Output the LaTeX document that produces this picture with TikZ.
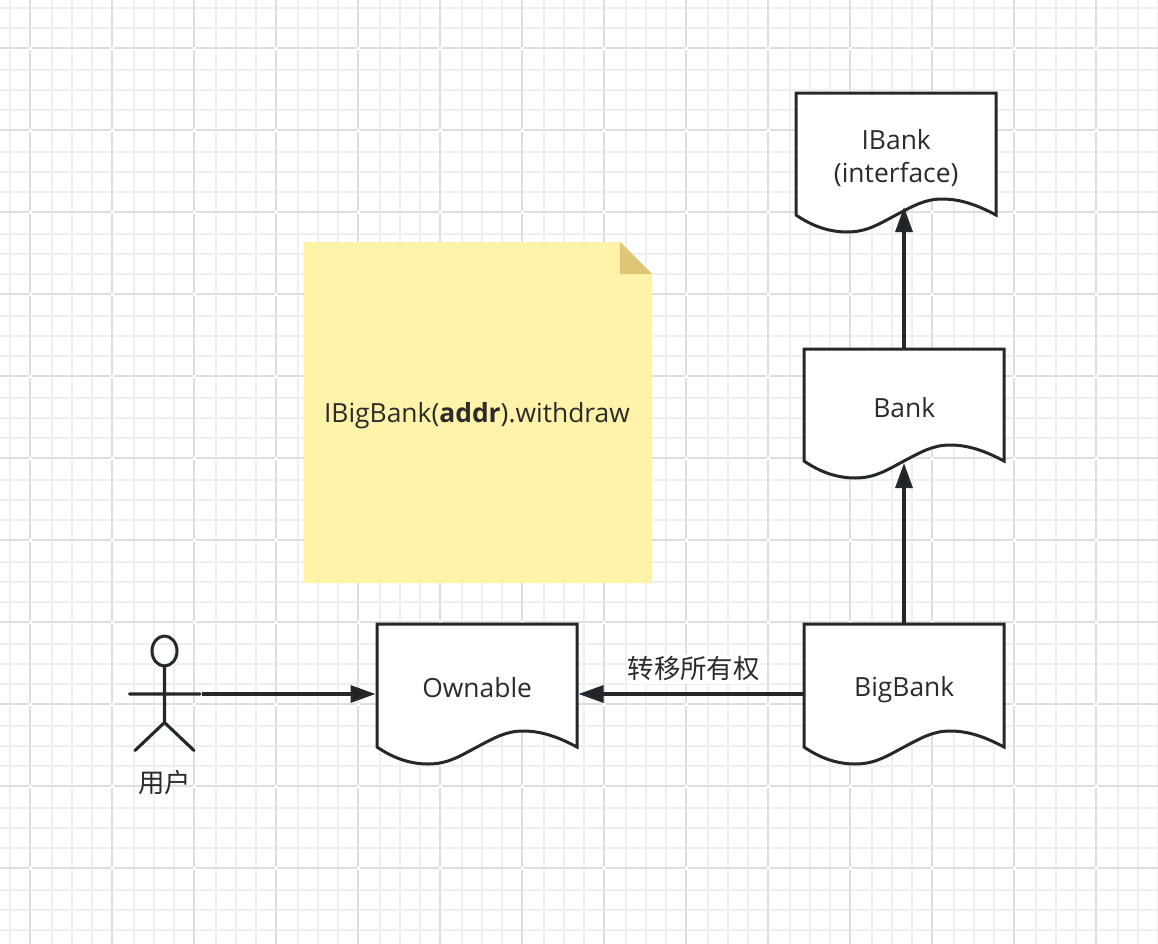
\documentclass[tikz,border=0pt]{standalone}
\usepackage{fontspec}
\setmainfont{Open Sans}
\newfontfamily\cjk{Noto Sans CJK SC}
\usetikzlibrary{arrows.meta}
\definecolor{gridmajor}{HTML}{DEDEDE}
\definecolor{gridminor}{HTML}{EFEFEF}
\definecolor{inkline}{HTML}{23282D}
\definecolor{inktext}{HTML}{2B2B2B}
\definecolor{inkhead}{HTML}{222222}
\definecolor{notefill}{HTML}{FEF3A9}
\definecolor{notefold}{HTML}{DFC677}
\tikzset{
  x=1bp,y=-1bp,
  conn/.style={draw=inkline,line width=3.1bp,-{Triangle[length=25bp,width=17bp,fill=inkhead]}},
  docbox/.style={minimum width=200bp,inner sep=0pt,text=inktext,align=center,font=\fontsize{26.4bp}{33bp}\selectfont},
  docline/.style={draw=inkline,fill=white,line width=3bp,line join=miter},
  actorline/.style={draw=inkline,line width=3.1bp,line cap=round},
  lbl/.style={text=inktext,font=\fontsize{26.4bp}{33bp}\selectfont\cjk,inner sep=0pt},
}
% #1 name, #2 left, #3 top, #4 height, #5 label shift, #6 text
\newcommand{\docshape}[6]{%
  \path[docline] (#2,#3) -- (#2+200,#3) -- (#2+200,#3+#4)
    .. controls (#2+183,#3+#4-9) and (#2+166,#3+#4-16) .. (#2+146,#3+#4-16)
    .. controls (#2+129,#3+#4-16) and (#2+117,#3+#4-9) .. (#2+100,#3+#4)
    .. controls (#2+83,#3+#4+9) and (#2+71,#3+#4+17) .. (#2+51,#3+#4+17)
    .. controls (#2+33,#3+#4+17) and (#2+16,#3+#4+11) .. (#2,#3+#4) -- cycle;
  \node[docbox,minimum height=#4 bp,anchor=north west,yshift=-#5 bp] (#1) at (#2,#3) {#6};
}
\begin{document}
\begin{tikzpicture}
\useasboundingbox (0,0) rectangle (1158,944);
\fill[white] (0,0) rectangle (1158,944);
% background grid, one tile at a time
\foreach \tx in {-52,30,112,...,1178}{
  \foreach \ty in {-34,48,130,...,950}{
    \draw[gridminor,line width=2bp]
      (\tx+2,\ty+22) -- (\tx+81,\ty+22) (\tx+2,\ty+42) -- (\tx+81,\ty+42) (\tx+2,\ty+62) -- (\tx+81,\ty+62)
      (\tx+22,\ty+2) -- (\tx+22,\ty+81) (\tx+42,\ty+2) -- (\tx+42,\ty+81) (\tx+62,\ty+2) -- (\tx+62,\ty+81);
    \draw[gridmajor,line width=1.9bp]
      (\tx,\ty+2) -- (\tx,\ty+81) (\tx+2,\ty) -- (\tx+81,\ty);
  }
}
% note
\fill[notefill] (303.5,242) -- (620,242) -- (652,274) -- (652,583) -- (303.5,583) -- cycle;
\fill[notefold] (620,242) -- (652,274) -- (620,274) -- cycle;
\node[text=inktext,font=\fontsize{26.4bp}{33bp}\selectfont,inner sep=0pt] (note) at (477,416) {IBigBank(\textbf{addr}).withdraw};
% documents
\docshape{ibank}{796}{93}{122}{3.5}{IBank\\(interface)}
\docshape{bank}{804}{349}{112}{6}{\strut Bank}
\docshape{bigbank}{804}{624}{123}{4.5}{\strut BigBank}
\docshape{ownable}{377}{624}{123}{5}{\strut Ownable}
% actor
\draw[actorline] (164.5,666) -- (164.5,722.5) (129.5,694) -- (200,694) (135,750.5) -- (164.5,722.5) -- (194,750.5);
\draw[draw=inkline,line width=3bp] (164.5,651) ellipse [x radius=12.5,y radius=15];
\node[minimum width=75bp,minimum height=115bp,inner sep=0pt] (actor) at (164.5,694) {};
\node[lbl] (actorlabel) at (164.5,782) {用户};
% connectors
\coordinate (ibanktip) at (904,207);
\coordinate (banktip) at (904,463);
\coordinate (bigbanktop) at (904,624);
\coordinate (banktop) at (904,349);
\coordinate (ownableright) at (578.5,694);
\coordinate (ownableleft) at (375.5,694);
\draw[conn] (actor.east |- ownableleft) -- (ownableleft);
\draw[conn] (bigbank.west |- ownableright) -- node[lbl,fill=white,minimum width=132bp,minimum height=29bp,pos=0.5,yshift=25bp,xshift=2.5bp] (xfer) {转移所有权} (ownableright);
\draw[conn] (bigbanktop) -- (banktip);
\draw[conn] (banktop) -- (ibanktip);
\end{tikzpicture}
\end{document}
